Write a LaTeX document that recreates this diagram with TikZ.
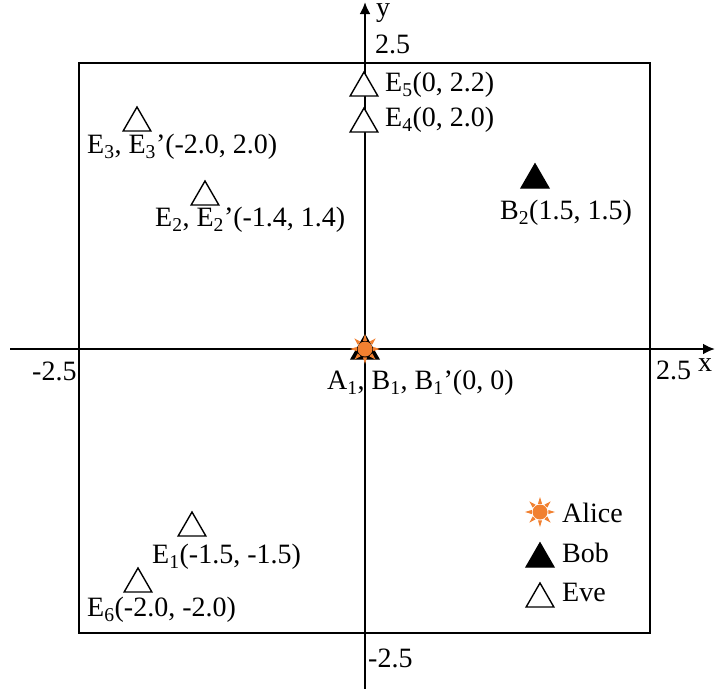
\documentclass[tikz,border=0pt]{standalone}
\usepackage{fontspec}
\setmainfont{Liberation Serif}
\usetikzlibrary{shapes.geometric,arrows.meta,calc}
\definecolor{sunorange}{RGB}{241,128,48}
\tikzset{
  every node/.style={font=\fontsize{28}{32}\selectfont},
  lbl/.style={anchor=west, inner sep=0pt},
  tri/.style={regular polygon, regular polygon sides=3, minimum size=32pt, inner sep=0pt, line width=1.4pt},
  evetri/.style={tri, draw=black, fill=white},
  bobtri/.style={tri, draw=black, fill=black},
  axis/.style={line width=2.6pt, -{Latex[length=12pt,width=11pt]}},
  sun/.pic={
    \node[circle, fill=sunorange, minimum size=15pt, inner sep=0pt] (-c) at (0,0) {};
    \foreach \a in {0,45,...,315}
      \fill[sunorange] (\a:15) -- (\a+14:8.5) -- (\a-14:8.5) -- cycle;
  }
}
\begin{document}
\begin{tikzpicture}[x=1pt,y=-1pt]
\useasboundingbox (0,0) rectangle (716,689);
% frame
\node[draw, line width=1.6pt, minimum width=571pt, minimum height=570pt, inner sep=0pt] (box) at (364.5,348) {};
% axes
\coordinate (xs) at (10,349);
\coordinate (xe) at (715,349);
\coordinate (ys) at (365,689);
\coordinate (ye) at (365,2);
\draw[axis] (xs) -- (xe);
\draw[axis] (ys) -- (ye);
% axis labels
\node[lbl] (xminus) at (32,371) {-2.5};
\node[lbl] (xplus) at (656,370) {2.5};
\node[inner sep=0pt] (xlab) at (705,365) {x};
\node[inner sep=0pt] (ylab) at (383,13) {y};
\node[lbl] (yplus) at (375,44) {2.5};
\node[lbl] (yminus) at (368,658) {-2.5};
% Eve triangles
\node[evetri] (e3) at (137,123) {};
\node[evetri] (e2) at (205,197) {};
\node[evetri] (e5) at (364,88) {};
\node[evetri] (e4) at (364,124) {};
\node[evetri] (e1) at (192,528) {};
\node[evetri] (e6) at (138,584) {};
% Bob triangles
\node[bobtri] (b2) at (535,180) {};
\node[bobtri] (b1) at (365,351) {};
% Alice at origin
\pic (a1) at (365,349) {sun};
% point labels
\node[lbl] (le3) at (87,147) {E\textsubscript{3}, E\textsubscript{3}’(-2.0, 2.0)};
\node[lbl] (le2) at (155,220) {E\textsubscript{2}, E\textsubscript{2}’(-1.4, 1.4)};
\node[lbl] (le5) at (385,85) {E\textsubscript{5}(0, 2.2)};
\node[lbl] (le4) at (385,120) {E\textsubscript{4}(0, 2.0)};
\node[lbl] (lb2) at (500,213) {B\textsubscript{2}(1.5, 1.5)};
\node[lbl] (la1) at (327,383) {A\textsubscript{1}, B\textsubscript{1}, B\textsubscript{1}’(0, 0)};
\node[lbl] (le1) at (152,557) {E\textsubscript{1}(-1.5, -1.5)};
\node[lbl] (le6) at (87,610) {E\textsubscript{6}(-2.0, -2.0)};
% legend
\pic (legA) at (540,512) {sun};
\node[bobtri] (legB) at (540,559) {};
\node[evetri] (legE) at (540,599) {};
\node[lbl] (tA) at (562,513) {Alice};
\node[lbl] (tB) at (562,553) {Bob};
\node[lbl] (tE) at (562,592) {Eve};
\end{tikzpicture}
\end{document}
